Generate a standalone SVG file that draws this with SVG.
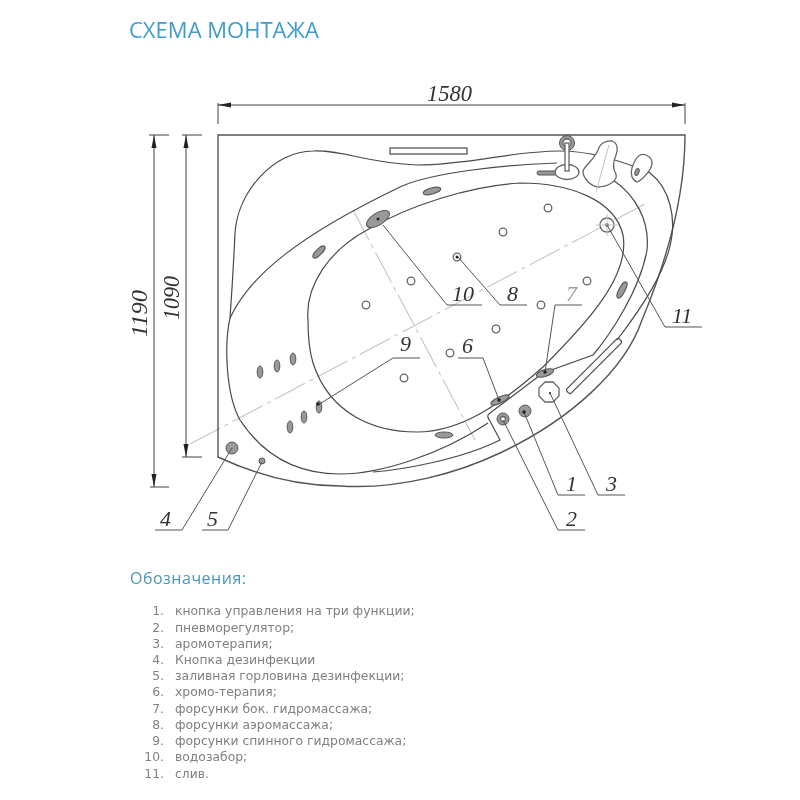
<svg xmlns="http://www.w3.org/2000/svg" width="800" height="800" viewBox="0 0 800 800">
<defs>
<marker id="arr" markerWidth="13" markerHeight="6" refX="13" refY="3" orient="auto-start-reverse" markerUnits="userSpaceOnUse"><path d="M0,0.500L13,3L0,5.500z" fill="#222"/></marker>
<filter id="soft" x="0" y="0" width="100%" height="100%"><feGaussianBlur stdDeviation="0.4"/></filter>
</defs>
<style>
.l{fill:none;stroke:#4a4a4a;stroke-width:1.2}
.o{fill:none;stroke:#555;stroke-width:1.4}
.c{fill:none;stroke:#c4c4c4;stroke-width:1.1;stroke-dasharray:34 5 4 5}
.s{fill:none;stroke:#c4c4c4;stroke-width:1}
.d{fill:none;stroke:#444;stroke-width:1}
.ld{fill:none;stroke:#555;stroke-width:1}
.n{fill:#fff;stroke:#666;stroke-width:1.3}
.j{fill:#999;stroke:#555;stroke-width:1}
.dk{fill:#222}
.lab{font-family:"Liberation Serif",serif;font-style:italic;font-size:22px;fill:#333}
.dim{font-family:"Liberation Serif",serif;font-style:italic;font-size:24px;fill:#333}
.ti{font-family:"Open Sans","DejaVu Sans",sans-serif;fill:#3f9ccb}
.it{font-family:"DejaVu Sans",sans-serif;font-size:12.35px;fill:#808080}
.num{text-anchor:end}
</style>
<rect width="800" height="800" fill="#fff"/>
<g id="page" filter="url(#soft)">
<text id="title" class="ti" x="129" y="38" font-size="21" textLength="190" lengthAdjust="spacingAndGlyphs">СХЕМА МОНТАЖА</text>

<g id="centerlines">
<path class="c" d="M190,444L647,203"/>
<path class="c" d="M353,210L475,440"/>
</g>
<g id="tub">
<path class="o" d="M218,457V135H685C685,200 665,265 642,320C625,370 570,420 500,453C460,472 400,490 340,486C290,486 250,472 218,457Z"/>
<path class="l" d="M230,318C232,290 234,255 235,233C238,190 275,151 313,151C345,150 365,163 417,165C470,165 510,151 560,151C590,151 620,160 650,173C672,190 674,220 672,235C668,270 640,310 617,340"/>
<path class="l" d="M230,318C224,345 226,395 240,420C265,458 300,474 340,474C380,474 440,455 488,423"/>
<path class="l" d="M373,472C400,470 460,460 500,440L490,421C487,417 487,415 490,413L543,373L593,355C610,335 640,290 647,250C650,220 635,195 613,180"/>
<path class="l" d="M230,318C250,275 300,235 400,187C430,173 500,165 557,163"/>
<path class="l" d="M308,320C305,285 330,250 367,230C410,205 470,186 520,183C570,183 615,200 623,235C630,275 590,320 543,367C500,405 460,432 417,432C375,432 330,415 313,363C309,350 308,335 308,320Z"/>
<rect class="l" x="390" y="148" width="77" height="6"/>
<rect class="l" x="-37" y="-3" width="74" height="6" rx="2" transform="translate(594,366) rotate(-45)"/>
</g>

<g id="dimensions">
<path class="d" d="M218,105H685" marker-start="url(#arr)" marker-end="url(#arr)"/>
<path class="d" d="M218,103V124M685,103V124"/>
<text class="dim" x="427" y="101" textLength="45" lengthAdjust="spacingAndGlyphs">1580</text>
<path class="d" d="M154,135V487" stroke-width="1.3" marker-start="url(#arr)" marker-end="url(#arr)"/>
<path class="d" d="M186,135V457" marker-start="url(#arr)" marker-end="url(#arr)"/>
<path class="d" d="M149,135H169M182,135H202M150,487H169M182,457H202"/>
<text class="dim" transform="translate(147,337) rotate(-90)" textLength="47" lengthAdjust="spacingAndGlyphs">1190</text>
<text class="dim" transform="translate(179,320) rotate(-90)" textLength="44" lengthAdjust="spacingAndGlyphs">1090</text>
</g>

<g id="faucet">
<circle class="j" cx="567" cy="143" r="7.500"/>
<circle class="n" cx="567" cy="143" r="4"/>
<rect class="j" x="537" y="171" width="20" height="4" rx="2"/>
<ellipse class="n" cx="567" cy="172" rx="12" ry="7.500"/>
<rect class="n" x="565" y="143" width="4" height="28"/>
</g>
<g id="spout">
<path class="n" d="M598,150C600,143 607,140 612,141C618,143 618,150 616,155C613,162 612,168 616,174C618,182 606,187 598,187C590,186 583,178 583,171C585,165 594,160 598,150Z"/>
<path class="s" d="M609,145L596,192"/>
</g>
<g id="teardrop">
<path class="n" d="M640,155C645,153 652,157 652,163C652,170 642,180 637,182C632,180 630,174 632,168C634,162 636,157 640,155Z"/>
<ellipse class="j" cx="637" cy="172" rx="2" ry="3.500" transform="rotate(20 637 172)"/>
</g>

<g id="aero-nozzles">
<circle class="n" cx="548" cy="208" r="3.800"/><circle class="n" cx="503" cy="232" r="3.800"/>
<circle class="n" cx="587" cy="281" r="3.800"/><circle class="n" cx="541" cy="305" r="3.800"/>
<circle class="n" cx="496" cy="329" r="3.800"/><circle class="n" cx="411" cy="281" r="3.800"/>
<circle class="n" cx="366" cy="305" r="3.800"/><circle class="n" cx="450" cy="353" r="3.800"/>
<circle class="n" cx="404" cy="378" r="3.800"/>
<circle class="n" cx="457" cy="257" r="3.800"/><circle class="dk" cx="457" cy="257" r="1.500"/>
</g>
<g id="side-jets">
<ellipse class="j" cx="432" cy="191" rx="9" ry="3" transform="rotate(-15 432 191)"/>
<ellipse class="j" cx="319" cy="252" rx="8" ry="3" transform="rotate(-45 319 252)"/>
<ellipse class="j" cx="622" cy="290" rx="9" ry="3" transform="rotate(-62 622 290)"/>
<ellipse class="j" cx="545" cy="373" rx="9" ry="3.500" transform="rotate(-18 545 373)"/>
<ellipse class="j" cx="500" cy="400" rx="10" ry="3" transform="rotate(-25 500 400)"/>
<ellipse class="j" cx="444" cy="435" rx="9" ry="3"/>
<ellipse class="j" cx="378" cy="219" rx="13" ry="6" transform="rotate(-32 378 219)"/>
<circle class="dk" cx="378" cy="219" r="1.500"/>
</g>
<g id="back-jets">
<ellipse class="j" cx="260" cy="372" rx="2.800" ry="6"/><ellipse class="j" cx="277" cy="366" rx="2.800" ry="6"/>
<ellipse class="j" cx="293" cy="359" rx="2.800" ry="6"/><ellipse class="j" cx="319" cy="407" rx="2.800" ry="6"/>
<ellipse class="j" cx="304" cy="417" rx="2.800" ry="6"/><ellipse class="j" cx="290" cy="427" rx="2.800" ry="6"/>
</g>
<g id="controls">
<circle class="j" cx="232" cy="448" r="6"/>
<circle class="j" cx="262" cy="461" r="3"/>
<circle class="j" cx="525" cy="411" r="6"/>
<circle class="j" cx="503" cy="419" r="6"/><circle class="n" cx="503" cy="419" r="2.500"/>
<path class="n" d="M545,382H553L559,388V396L553,402H545L539,396V388Z"/>
<circle class="n" cx="607" cy="225" r="7"/><circle class="dk" cx="607" cy="225" r="1.800"/>
<path class="s" d="M596,225H618M607,214V236"/>
</g>

<g id="connectors">
<path class="ld" d="M383,225L447,305H482"/>
<path class="ld" d="M458,257L500,305H527"/>
<path class="ld" d="M545,372L555,305H582"/>
<path class="ld" d="M607,225L665,327H702"/>
<path class="ld" d="M318,405L393,358H420"/>
<path class="ld" d="M499,400L483,358H458"/>
<path class="ld" d="M524,412L558,495H585"/>
<path class="ld" d="M550,393L598,495H625"/>
<path class="ld" d="M503,420L558,530H585"/>
<path class="ld" d="M232,448L182,530H155"/>
<path class="ld" d="M262,462L228,530H202"/>
<circle class="dk" cx="318" cy="404" r="1.800"/>
<circle class="dk" cx="545" cy="372" r="1.800"/>
<circle class="dk" cx="499" cy="400" r="1.800"/>
<circle class="dk" cx="524" cy="412" r="1.800"/>
<circle class="dk" cx="550" cy="393" r="1"/>
</g>
<g id="labels">
<text class="lab" x="452" y="301">10</text>
<text class="lab" x="507" y="301">8</text>
<text class="lab" x="566" y="301" style="fill:#999">7</text>
<text class="lab" x="672" y="323">11</text>
<text class="lab" x="400" y="351">9</text>
<text class="lab" x="462" y="353">6</text>
<text class="lab" x="566" y="491">1</text>
<text class="lab" x="606" y="491">3</text>
<text class="lab" x="566" y="526">2</text>
<text class="lab" x="160" y="526">4</text>
<text class="lab" x="207" y="526">5</text>
</g>

<g id="legend">
<text class="ti" x="130" y="584" font-size="16" textLength="116" style="fill:#4b97b8">Обозначения:</text>
<g class="it">
<text class="num" x="164" y="615">1.</text><text x="175" y="615">кнопка управления на три функции;</text>
<text class="num" x="164" y="632">2.</text><text x="175" y="632">пневморегулятор;</text>
<text class="num" x="164" y="648">3.</text><text x="175" y="648">аромотерапия;</text>
<text class="num" x="164" y="664">4.</text><text x="175" y="664">Кнопка дезинфекции</text>
<text class="num" x="164" y="680">5.</text><text x="175" y="680">заливная горловина дезинфекции;</text>
<text class="num" x="164" y="696">6.</text><text x="175" y="696">хромо-терапия;</text>
<text class="num" x="164" y="713">7.</text><text x="175" y="713">форсунки бок. гидромассажа;</text>
<text class="num" x="164" y="729">8.</text><text x="175" y="729">форсунки аэромассажа;</text>
<text class="num" x="164" y="745">9.</text><text x="175" y="745">форсунки спинного гидромассажа;</text>
<text class="num" x="164" y="761">10.</text><text x="175" y="761">водозабор;</text>
<text class="num" x="164" y="778">11.</text><text x="175" y="778">слив.</text>
</g>
</g>
</g>
</svg>
